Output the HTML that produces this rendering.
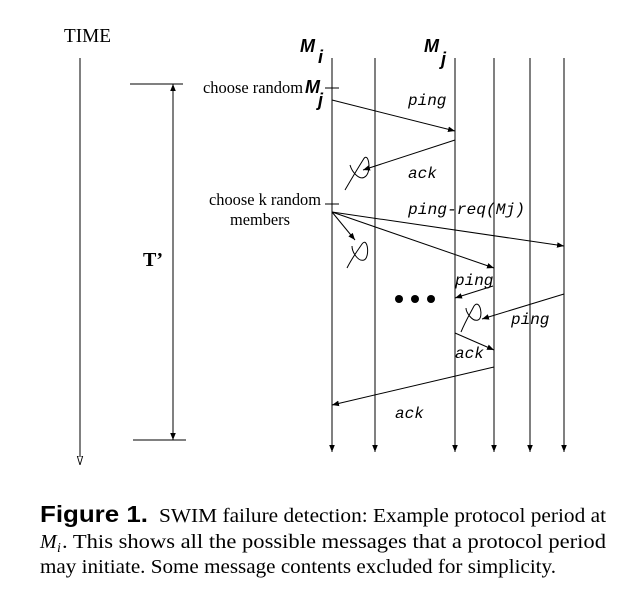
<!DOCTYPE html>
<html><head><meta charset="utf-8"><style>
html,body{margin:0;padding:0;background:#fff}
svg{display:block}
.s{font-family:"Liberation Serif",serif}
.m{font-family:"Liberation Mono",monospace;font-style:italic;font-size:16px}
.b{font-family:"Liberation Sans",sans-serif;font-weight:bold;font-style:italic}
</style></head><body>
<svg width="642" height="596" viewBox="0 0 642 596" xmlns="http://www.w3.org/2000/svg">
<defs>
<marker id="a" viewBox="0 0 10 10" refX="10" refY="5" markerWidth="7" markerHeight="7" orient="auto-start-reverse" markerUnits="userSpaceOnUse"><path d="M0,1 L10,5 L0,9 z" fill="#000"/></marker>
<marker id="o" viewBox="0 0 10 10" refX="10" refY="5" markerWidth="9" markerHeight="9" orient="auto" markerUnits="userSpaceOnUse"><path d="M0,2 L10,5 L0,8 z" fill="#fff" stroke="#000"/></marker>
</defs>
<g stroke="#000" stroke-width="1" fill="none">
<line x1="80" y1="58" x2="80" y2="465" marker-end="url(#o)"/>
<line x1="130" y1="84" x2="183" y2="84"/>
<line x1="133" y1="440" x2="186" y2="440"/>
<line x1="173" y1="84" x2="173" y2="440" marker-start="url(#a)" marker-end="url(#a)"/>
<line x1="332" y1="58" x2="332" y2="452" marker-end="url(#a)"/>
<line x1="375" y1="58" x2="375" y2="452" marker-end="url(#a)"/>
<line x1="455" y1="58" x2="455" y2="452" marker-end="url(#a)"/>
<line x1="494" y1="58" x2="494" y2="452" marker-end="url(#a)"/>
<line x1="530" y1="58" x2="530" y2="452" marker-end="url(#a)"/>
<line x1="564" y1="58" x2="564" y2="452" marker-end="url(#a)"/>
<line x1="325" y1="88" x2="339" y2="88"/>
<line x1="325" y1="204" x2="339" y2="204"/>
<line x1="332" y1="100" x2="455" y2="131" marker-end="url(#a)"/>
<line x1="455" y1="140" x2="363" y2="170" marker-end="url(#a)"/>
<path d="M345,190 C352,178 358,168 363,160 C368,150 372,170 366,176 C360,182 352,172 350,165"/>
<line x1="332" y1="212" x2="564" y2="246" marker-end="url(#a)"/>
<line x1="332" y1="212" x2="494" y2="268" marker-end="url(#a)"/>
<line x1="332" y1="212" x2="355" y2="240" marker-end="url(#a)"/>
<path d="M347,268 C352,258 358,250 362,244 C368,236 370,258 364,260 C358,262 352,252 352,246"/>
<line x1="493" y1="286" x2="455" y2="298" marker-end="url(#a)"/>
<line x1="564" y1="294" x2="482" y2="319" marker-end="url(#a)"/>
<path d="M461,332 C466,320 471,312 474,306 C480,298 484,318 478,320 C472,322 466,312 466,308"/>
<line x1="455" y1="333" x2="494" y2="350" marker-end="url(#a)"/>
<line x1="494" y1="367" x2="332" y2="405" marker-end="url(#a)"/>
</g>
<circle cx="399" cy="299" r="4"/><circle cx="415" cy="299" r="4"/><circle cx="431" cy="299" r="4"/>
<text x="64" y="42" class="s" font-size="20" textLength="47" lengthAdjust="spacingAndGlyphs">TIME</text>
<text x="143" y="266" class="s" font-size="20" font-weight="bold">T’</text>
<text x="300" y="52" class="b" font-size="18">M</text>
<text x="318" y="63" class="b" font-size="18">i</text>
<text x="424" y="52" class="b" font-size="18">M</text>
<text x="441" y="65" class="b" font-size="18">j</text>
<text x="203" y="93" class="s" font-size="17" textLength="100" lengthAdjust="spacingAndGlyphs">choose random</text>
<text x="305" y="93" class="b" font-size="18">M</text>
<text x="318" y="106" class="b" font-size="18">j</text>
<text x="209" y="205" class="s" font-size="17" textLength="112" lengthAdjust="spacingAndGlyphs">choose k random</text>
<text x="230" y="225" class="s" font-size="17" textLength="60" lengthAdjust="spacingAndGlyphs">members</text>
<text x="408" y="105" class="m">ping</text>
<text x="408" y="178" class="m">ack</text>
<text x="408" y="214" class="m" textLength="117" lengthAdjust="spacingAndGlyphs">ping-req(Mj)</text>
<text x="455" y="285" class="m">ping</text>
<text x="511" y="324" class="m">ping</text>
<text x="455" y="358" class="m">ack</text>
<text x="395" y="418" class="m">ack</text>
<text x="40" y="522" font-family="Liberation Sans,sans-serif" font-weight="bold" font-size="23" textLength="108" lengthAdjust="spacingAndGlyphs">Figure 1.</text>
<text x="159" y="522" font-size="20" class="s" textLength="447" lengthAdjust="spacingAndGlyphs">SWIM failure detection: Example protocol period at</text>
<text x="40" y="548" font-size="20" class="s" font-style="italic">M</text>
<text x="57" y="552" font-size="14" class="s" font-style="italic">i</text>
<text x="62" y="548" font-size="20" class="s" textLength="544" lengthAdjust="spacingAndGlyphs">.  This shows all the possible messages that a protocol period</text>
<text x="40" y="573" font-size="20" class="s" textLength="516" lengthAdjust="spacingAndGlyphs">may initiate. Some message contents excluded for simplicity.</text>
</svg>
</body></html>
